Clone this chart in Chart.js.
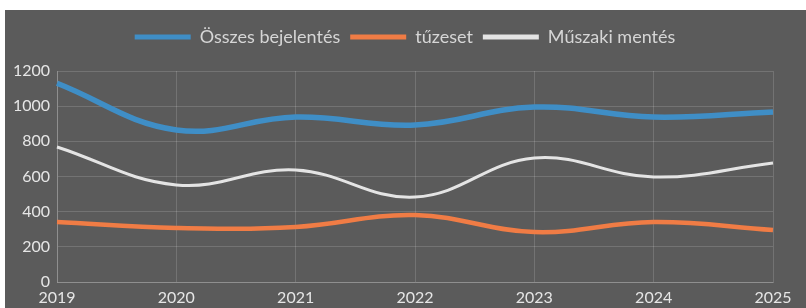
<!DOCTYPE html>
<html>
<head>
<meta charset="utf-8">
<script src="https://cdn.jsdelivr.net/npm/chart.js@4"></script>
<style>
  html, body { margin: 0; padding: 0; background: #fff; }
  #box { position: absolute; left: 5px; top: 10px; width: 801px; height: 298px; background: #5b5b5b; }
</style>
</head>
<body>
<div id="box"><canvas id="grafico" width="801" height="298"></canvas></div>
<script>
// evek es esetszamok
const evek = ['2019', '2020', '2021', '2022', '2023', '2024', '2025'];
const osszesBejelentes = [1130, 865, 938, 893, 995, 938, 967];
const tuzeset = [341, 307, 313, 381, 284, 341, 296];
const muszakiMentes = [768, 552, 637, 483, 705, 597, 677];

// a legenda alatt tobb hely kell, es kicsit jobbra tolva
const legendaHely = {
    id: 'legendaHely',
    afterInit: function (chart) {
        const lg = chart.legend;
        if (!lg) return;
        const eredeti = lg.fit;
        lg.fit = function () {
            eredeti.call(this);
            this.height += 15;
        };
    },
    afterLayout: function (chart) {
        const lg = chart.legend;
        if (!lg) return;
        lg.left += 16;
        lg.right += 16;
    }
};

const ctx = document.getElementById('grafico').getContext('2d');
const grafico = new Chart(ctx, {
    type: 'line',
    data: {
        labels: evek,
        datasets: [{
            label: 'Összes bejelentés',
            data: osszesBejelentes,
            borderColor: '#3f8ec6',
            backgroundColor: '#3f8ec6',
            borderWidth: 5.5
        }, {
            label: 'tűzeset',
            data: tuzeset,
            borderColor: '#f07c45',
            backgroundColor: '#f07c45',
            borderWidth: 4.5
        }, {
            label: 'Műszaki mentés',
            data: muszakiMentes,
            borderColor: '#e4e4e4',
            backgroundColor: '#e4e4e4',
            borderWidth: 3
        }]
    },
    plugins: [legendaHely],
    options: {
        responsive: false,
        animation: false,
        tension: 0.4,
        pointRadius: 0,
        layout: {
            padding: { top: 8, right: 33, bottom: 0, left: 0 }
        },
        plugins: {
            legend: {
                position: 'top',
                labels: {
                    color: '#d6d6d6',
                    font: { family: 'Lato', size: 18 },
                    boxWidth: 56,
                    boxHeight: 5,
                    padding: 10,
                    generateLabels: function (chart) {
                        const items = Chart.defaults.plugins.legend.labels.generateLabels(chart);
                        items.forEach(function (it) { it.lineWidth = 0; });
                        return items;
                    }
                }
            },
            tooltip: { enabled: false }
        },
        scales: {
            x: {
                grid: { color: 'rgba(255,255,255,0.15)', drawTicks: false },
                border: { color: 'rgba(255,255,255,0.2)' },
                ticks: {
                    color: '#e6e6e6',
                    font: { family: 'Lato', size: 16 },
                    padding: 6,
                    maxRotation: 0
                },
                afterFit: function (scale) { scale.height = 26; }
            },
            y: {
                min: 0,
                max: 1200,
                grid: { color: 'rgba(255,255,255,0.15)', drawTicks: false },
                border: { color: 'rgba(255,255,255,0.2)' },
                ticks: {
                    stepSize: 200,
                    color: '#e6e6e6',
                    font: { family: 'Lato', size: 16 },
                    padding: 7,
                    callback: function (v) { return String(v); }
                },
                afterFit: function (scale) { scale.width = 52; }
            }
        }
    }
});
</script>
</body>
</html>
